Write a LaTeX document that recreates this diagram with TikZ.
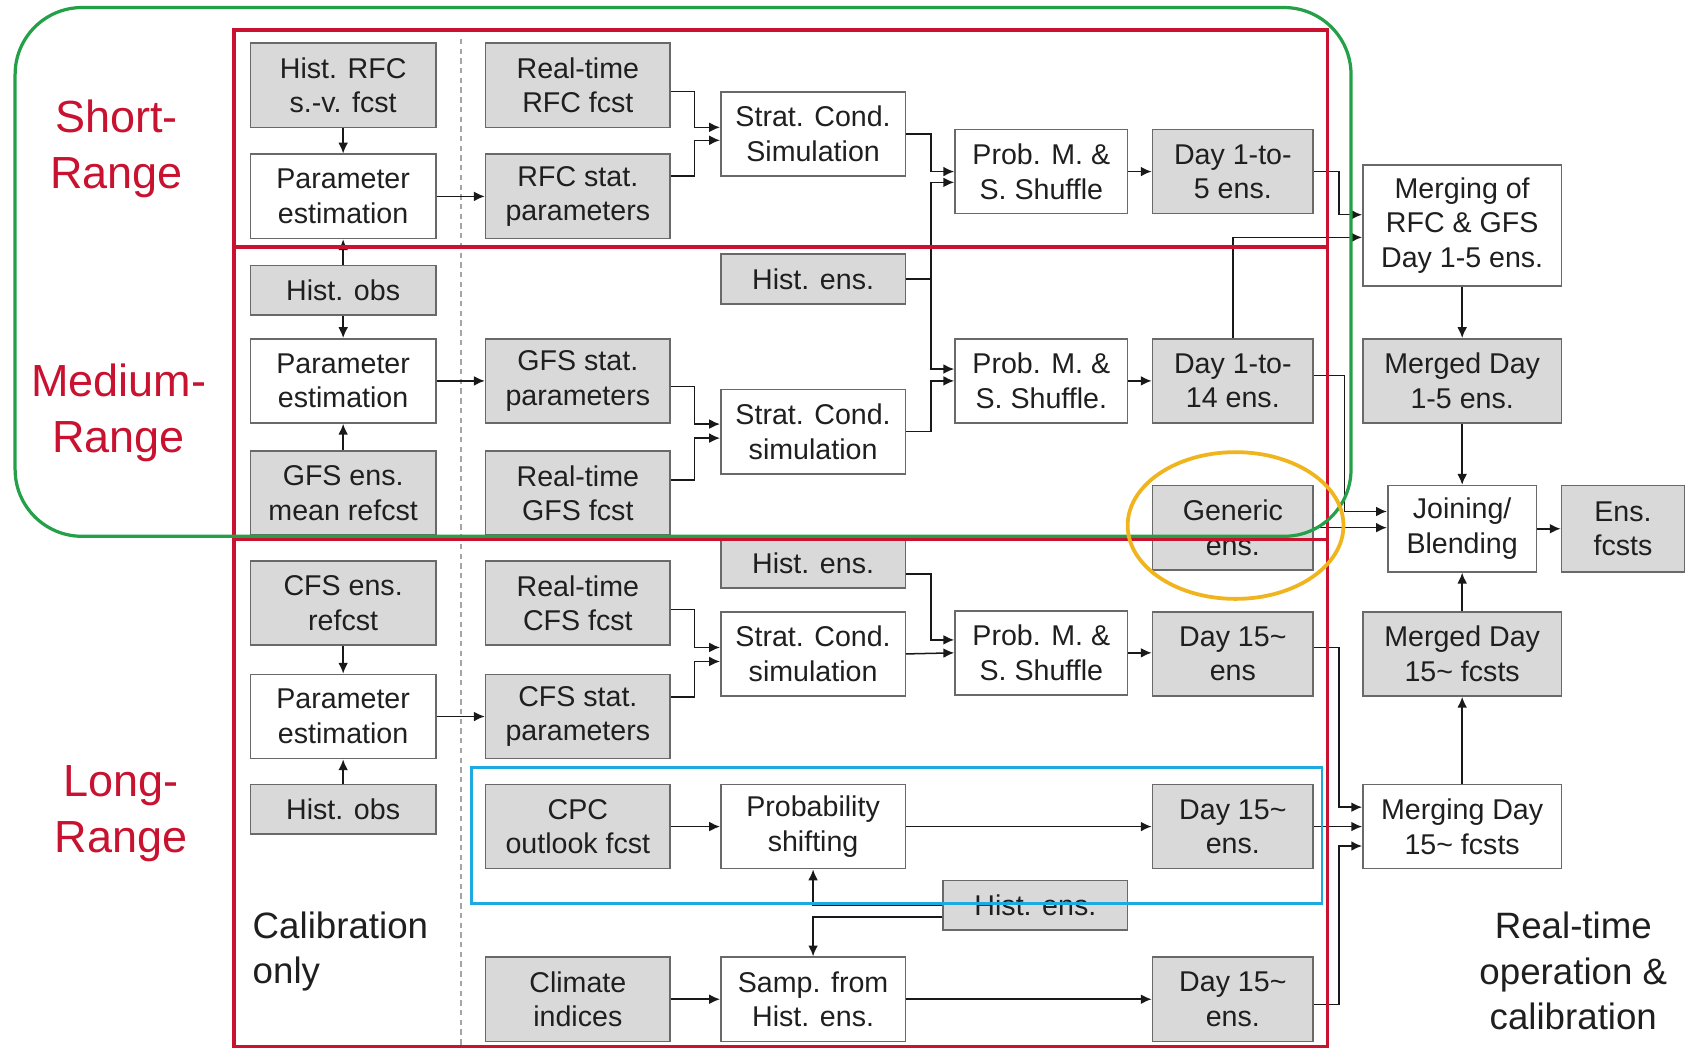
\documentclass[tikz,border=0pt]{standalone}
\usepackage{fontspec}
\setmainfont{Liberation Sans}
\usetikzlibrary{arrows.meta,calc}
\definecolor{frred}{RGB}{200,18,48}
\definecolor{frgreen}{RGB}{36,160,72}
\definecolor{frblue}{RGB}{30,170,225}
\definecolor{frorange}{RGB}{240,180,30}
\definecolor{boxgrey}{RGB}{217,217,217}
\definecolor{boxline}{RGB}{105,105,105}
\definecolor{dashgrey}{RGB}{165,165,165}
\begin{document}
\begin{tikzpicture}[x=1pt,y=-1pt,
  base/.style={draw=boxline, line width=1.5pt, align=center, inner sep=0pt,
    font=\fontsize{26.5}{32}\selectfont, minimum height=78pt, text=black!88},
  gbox/.style={base, fill=boxgrey},
  wbox/.style={base, fill=white},
  c1w/.style={minimum width=172pt},
  c2w/.style={minimum width=171pt},
  c3w/.style={minimum width=171pt},
  c4w/.style={minimum width=160pt},
  c5w/.style={minimum width=149pt},
  c6w/.style={minimum width=184pt},
  short/.style={minimum height=46pt},
  arr/.style={-{Latex[length=10pt,width=9pt]}, line width=1.4pt, black!90},
  lab/.style={align=center, text=frred, font=\fontsize{41.7}{52}\selectfont, inner sep=0pt},
  side/.style={font=\fontsize{34}{42}\selectfont, inner sep=0pt, text=black!88}
]
\useasboundingbox (0,0) rectangle (1568,973);

% dashed separator
\draw[dashgrey, line width=1.5pt, dash pattern=on 5pt off 4pt] (427,36) -- (427,970);

% column 1
\node[gbox,c1w] (h1) at (318,79) {Hist. RFC\\s.-v. fcst};
\node[wbox,c1w] (p1) at (318,182) {Parameter\\estimation};
\node[gbox,c1w,short] (o1) at (318,269) {Hist. obs};
\node[wbox,c1w] (p2) at (318,353) {Parameter\\estimation};
\node[gbox,c1w] (g1) at (318,457) {GFS ens.\\mean refcst};
\node[gbox,c1w] (c1) at (318,559) {CFS ens.\\refcst};
\node[wbox,c1w] (p3) at (318,664) {Parameter\\estimation};
\node[gbox,c1w,short] (o2) at (318,750) {Hist. obs};

% column 2
\node[gbox,c2w] (rt1) at (535.5,79) {Real-time\\RFC fcst};
\node[gbox,c2w] (sp1) at (535.5,182) {RFC stat.\\parameters};
\node[gbox,c2w] (sp2) at (535.5,353) {GFS stat.\\parameters};
\node[gbox,c2w] (rt2) at (535.5,457) {Real-time\\GFS fcst};
\node[gbox,c2w] (rt3) at (535.5,559) {Real-time\\CFS fcst};
\node[gbox,c2w] (sp3) at (535.5,664) {CFS stat.\\parameters};
\node[gbox,c2w] (cpc) at (535.5,766) {CPC\\outlook fcst};
\node[gbox,c2w] (ci) at (535.5,926) {Climate\\indices};

% column 3
\node[wbox,c3w] (sc1) at (753.5,124) {Strat. Cond.\\Simulation};
\node[gbox,c3w,short] (he1) at (753.5,258.5) {Hist. ens.};
\node[wbox,c3w] (sc2) at (753.5,400) {Strat. Cond.\\simulation};
\node[gbox,c3w,short] (he2) at (753.5,522) {Hist. ens.};
\node[wbox,c3w] (sc3) at (753.5,606) {Strat. Cond.\\simulation};
\node[wbox,c3w] (ps) at (753.5,766) {Probability\\shifting};
\node[wbox,c3w] (sa) at (753.5,926) {Samp. from\\Hist. ens.};

% column 4
\node[wbox,c4w] (pm1) at (965,159) {Prob. M. \&\\S. Shuffle};
\node[wbox,c4w] (pm2) at (965,353) {Prob. M. \&\\S. Shuffle.};
\node[wbox,c4w] (pm3) at (965,605) {Prob. M. \&\\S. Shuffle};
\node[gbox,c3w,short] (he3) at (959.5,839) {Hist. ens.};

% column 5
\node[gbox,c5w] (d1) at (1142.5,159) {Day 1-to-\\5 ens.};
\node[gbox,c5w] (d2) at (1142.5,353) {Day 1-to-\\14 ens.};
\node[gbox,c5w] (ge) at (1142.5,489) {Generic\\ens.};
\node[gbox,c5w] (d3) at (1142.5,606) {Day 15\textasciitilde\\ens};
\node[gbox,c5w] (d4) at (1142.5,766) {Day 15\textasciitilde\\ens.};
\node[gbox,c5w] (d5) at (1142.5,926) {Day 15\textasciitilde\\ens.};

% column 6 / 7
\node[wbox,c6w,minimum height=112pt] (mg1) at (1355,209) {Merging of\\RFC \& GFS\\Day 1-5 ens.};
\node[gbox,c6w] (md1) at (1355,353) {Merged Day\\1-5 ens.};
\node[wbox,minimum width=138pt,minimum height=80pt] (jb) at (1355,490) {Joining/\\Blending};
\node[gbox,c6w] (md2) at (1355,606) {Merged Day\\15\textasciitilde\ fcsts};
\node[wbox,c6w] (mg2) at (1355,766) {Merging Day\\15\textasciitilde\ fcsts};
\node[gbox,minimum width=114pt,minimum height=80pt] (ef) at (1504,490) {Ens.\\fcsts};

% connectors: calibration column
\draw[arr] (h1.south) -- (p1.north);
\draw[arr] (o1.north) -- (p1.south);
\draw[arr] (o1.south) -- (p2.north);
\draw[arr] (g1.north) -- (p2.south);
\draw[arr] (c1.south) -- (p3.north);
\draw[arr] (o2.north) -- (p3.south);
\draw[arr] (p1.east) -- (sp1.west);
\draw[arr] (p2.east) -- (sp2.west);
\draw[arr] (p3.east) -- (sp3.west);

% into strat. cond.
\draw[arr] ([yshift=-6pt]rt1.east) -- ++(22,0) |- ([yshift=6pt]sc1.west);
\draw[arr] ([yshift=19pt]sp1.east) -- ++(22,0) |- ([yshift=-6pt]sc1.west);
\draw[arr] ([yshift=-5pt]sp2.east) -- ++(22,0) |- ([yshift=7pt]sc2.west);
\draw[arr] ([yshift=12pt]rt2.east) -- ++(22,0) |- ([yshift=-6pt]sc2.west);
\draw[arr] ([yshift=-6pt]rt3.east) -- ++(22,0) |- ([yshift=6pt]sc3.west);
\draw[arr] ([yshift=18pt]sp3.east) -- ++(22,0) |- ([yshift=-7pt]sc3.west);

% into prob. m.
\draw[arr] (sc1.east) -- ++(23,0) |- (pm1.west);
\draw[arr] (he1.east) -- ++(23,0) |- ([yshift=-10pt]pm1.west);
\draw[arr] (he1.east) -- ++(23,0) |- ([yshift=11pt]pm2.west);
\draw[arr] (sc2.east) -- ++(23,0) |- (pm2.west);
\draw[arr] ([yshift=-10pt]he2.east) -- ++(23,0) |- ([yshift=12pt]pm3.west);
\draw[arr] (sc3.east) -- (pm3.west);

\draw[arr] (pm1.east) -- (d1.west);
\draw[arr] (pm2.east) -- (d2.west);
\draw[arr] (pm3.east) -- (pm3.east -| d3.west);

% long range lower rows
\draw[arr] (cpc.east) -- (ps.west);
\draw[arr] (ps.east) -- (d4.west);
\draw[arr] (ci.east) -- (sa.west);
\draw[arr] (sa.east) -- (d5.west);
\draw[arr] (he3.west) -| (ps.south);
\draw[arr] ([yshift=-11pt]he3.west) -| (sa.north);

% merging / joining
\draw[arr] (d1.east) -- ++(23,0) |- ([yshift=10pt]mg1.west);
\draw[arr] (d2.north) |- ([yshift=-11pt]mg1.west);
\draw[arr] ([yshift=5pt]d2.east) -- ++(28,0) |- ([yshift=16pt]jb.west);
\draw[arr] (ge.east) -- (ge.east -| jb.west);
\draw[arr] (mg1.south) -- (md1.north);
\draw[arr] (md1.south) -- (jb.north);
\draw[arr] (md2.north) -- (jb.south);
\draw[arr] (mg2.north) -- (md2.south);
\draw[arr] (jb.east) -- (ef.west);
\draw[arr] ([yshift=6pt]d3.east) -- ++(23,0) |- ([yshift=18pt]mg2.west);
\draw[arr] (d4.east) -- (mg2.west);
\draw[arr] ([yshift=-5pt]d5.east) -- ++(23,0) |- ([yshift=-18pt]mg2.west);

% labels
\node[lab] (lshort) at (108,138) {Short-\\Range};
\node[lab] (lmed) at (110,383) {Medium-\\Range};
\node[lab] (llong) at (112,754) {Long-\\Range};
\node[side, align=left, anchor=west] (lcal) at (234,882) {Calibration\\only};
\node[side, align=center] (lrt) at (1458,900) {Real-time\\operation \&\\calibration};

% frames
\draw[frred, line width=3.2pt] (217,28) rectangle (1230,970);
\draw[frred, line width=3.2pt] (217,229) -- (1230,229);
\draw[frred, line width=3.2pt] (217,500) -- (1230,500);
\draw[frgreen, line width=3pt, rounded corners=62pt] (14,7) rectangle (1252,497);
\draw[frblue, line width=2.5pt] (437,711) rectangle (1225,837);
\draw[frorange, line width=3.5pt] (1145,487) ellipse [x radius=100pt, y radius=68pt];
\end{tikzpicture}
\end{document}
